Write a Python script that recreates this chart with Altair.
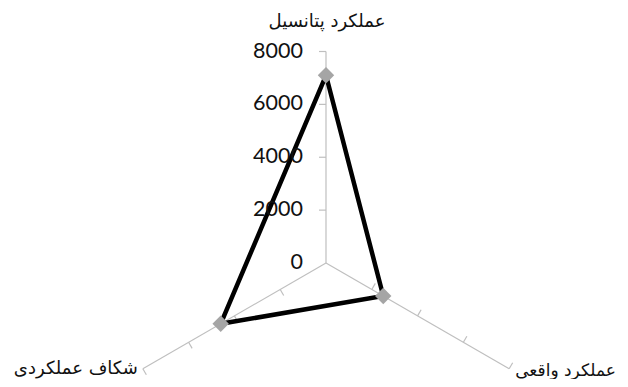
import altair as alt
import pandas as pd

categories = ["عملکرد پتانسیل", "عملکرد واقعی", "شکاف عملکردی"]
values = [7100, 2500, 4600]
tick_values = [0, 2000, 4000, 6000, 8000]
r_max = 8000

W, H = 612, 371
cx, cy = 318, 255
s = 211.5 / r_max
xdom = [-cx / s, (W - cx) / s]
ydom = [-(H - cy) / s, cy / s]
tick_len = 7 / s

xs = alt.Scale(domain=xdom, nice=False, zero=False)
ys = alt.Scale(domain=ydom, nice=False, zero=False)

n = len(categories)
cat_df = pd.DataFrame({"cat": categories, "idx": list(range(n)), "value": values})
ang_expr = f"datum.idx*2*PI/{n}"

# axis spokes
spokes = alt.Chart(cat_df).transform_calculate(
    ang=ang_expr,
    ox="0", oy="0",
    ex=f"{r_max}*sin(datum.ang)", ey=f"{r_max}*cos(datum.ang)",
).mark_rule(color="#bfbfbf", strokeWidth=1.2).encode(
    x=alt.X("ox:Q", scale=xs, axis=None),
    y=alt.Y("oy:Q", scale=ys, axis=None),
    x2="ex:Q", y2="ey:Q",
)

# tick marks
tick_rows = [{"idx": i, "r": t} for i in range(n) for t in tick_values if t > 0]
ticks = alt.Chart(pd.DataFrame(tick_rows)).transform_calculate(
    ang=ang_expr,
    bx="datum.r*sin(datum.ang)", by="datum.r*cos(datum.ang)",
    tx=f"datum.bx-{tick_len}*cos(datum.ang)", ty=f"datum.by+{tick_len}*sin(datum.ang)",
).mark_rule(color="#bfbfbf", strokeWidth=1.2).encode(
    x=alt.X("bx:Q", scale=xs, axis=None),
    y=alt.Y("by:Q", scale=ys, axis=None),
    x2="tx:Q", y2="ty:Q",
)

# polygon
poly_rows = [{"idx": i, "value": values[i], "ord": k} for k, i in enumerate(list(range(n)) + [0])]
poly = alt.Chart(pd.DataFrame(poly_rows)).transform_calculate(
    ang=ang_expr,
    px="datum.value*sin(datum.ang)", py="datum.value*cos(datum.ang)",
).mark_line(color="black", strokeWidth=4.5, strokeJoin="miter").encode(
    x=alt.X("px:Q", scale=xs, axis=None),
    y=alt.Y("py:Q", scale=ys, axis=None),
    order="ord:Q",
)

markers = alt.Chart(cat_df).transform_calculate(
    ang=ang_expr,
    px="datum.value*sin(datum.ang)", py="datum.value*cos(datum.ang)",
).mark_point(shape="diamond", filled=True, size=270, color="#a5a5a5", opacity=1).encode(
    x=alt.X("px:Q", scale=xs, axis=None),
    y=alt.Y("py:Q", scale=ys, axis=None),
)

# value labels on the top spoke
vlabels = alt.Chart(pd.DataFrame({"v": tick_values})).transform_calculate(
    lx="0"
).mark_text(align="right", baseline="middle", dx=-23, fontSize=21.5, font="Lato", color="#111").encode(
    x=alt.X("lx:Q", scale=xs, axis=None),
    y=alt.Y("v:Q", scale=ys, axis=None),
    text=alt.Text("v:Q", format="d"),
)

label_style = [
    dict(align="center", dx=1, dy=-25, fontSize=18),
    dict(align="left", dx=6, dy=7, fontSize=17),
    dict(align="right", dx=-5, dy=5, fontSize=18),
]

cat_layers = []
for i in range(n):
    st = label_style[i]
    cat_layers.append(
        alt.Chart(cat_df).transform_filter(f"datum.idx=={i}").transform_calculate(
            ang=ang_expr,
            ex=f"{r_max}*sin(datum.ang)", ey=f"{r_max}*cos(datum.ang)",
        ).mark_text(baseline="alphabetic", font="DejaVu Sans", color="#111", **st).encode(
            x=alt.X("ex:Q", scale=xs, axis=None),
            y=alt.Y("ey:Q", scale=ys, axis=None),
            text="cat:N",
        )
    )

chart = alt.layer(spokes, ticks, poly, markers, vlabels, *cat_layers).properties(
    width=W, height=H, padding=0, autosize="none"
).configure_view(stroke=None)

chart.save("out.html", embed_options={"renderer": "svg", "actions": False})
